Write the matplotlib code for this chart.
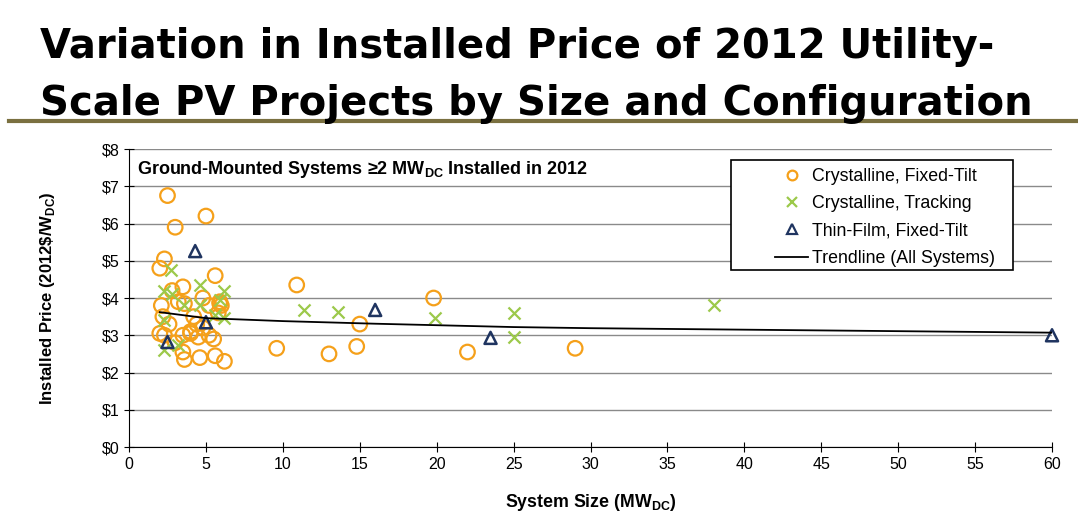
import matplotlib
matplotlib.use("Agg")
import matplotlib.pyplot as plt
from matplotlib.lines import Line2D
from matplotlib.patches import Rectangle

plt.rcParams['font.family'] = ['Liberation Sans', 'DejaVu Sans']
plt.rcParams['mathtext.fontset'] = 'custom'
plt.rcParams['mathtext.rm'] = 'Liberation Sans'
plt.rcParams['mathtext.bf'] = 'Liberation Sans:bold'

# ---- data ----
cft_x = [2.5, 5.0, 3.0, 2.3, 2.0, 5.6, 3.5, 2.8, 10.9, 19.8, 2.1, 3.6, 4.8, 5.9, 6.0,
         5.8, 4.2, 2.2, 2.6, 4.4, 4.0, 2.0, 2.3, 3.5, 4.0, 4.5, 5.2, 5.5, 4.8, 3.0,
         3.5, 3.6, 4.6, 5.6, 6.2, 9.6, 13.0, 14.8, 15.0, 22.0, 29.0, 3.2, 5.2, 5.9]
cft_y = [6.75, 6.2, 5.9, 5.05, 4.8, 4.6, 4.3, 4.2, 4.35, 4.0, 3.8, 3.85, 4.0, 3.9, 3.8,
         3.6, 3.5, 3.5, 3.3, 3.3, 3.1, 3.05, 3.0, 3.0, 3.05, 2.95, 3.0, 2.9, 3.2, 2.8,
         2.55, 2.35, 2.4, 2.45, 2.3, 2.65, 2.5, 2.7, 3.3, 2.55, 2.65, 3.9, 3.8, 3.85]
ctr_x = [2.7, 2.3, 4.6, 6.2, 3.6, 5.6, 6.2, 2.3, 2.3, 3.2, 4.6, 2.8, 5.9,
         11.4, 13.6, 19.9, 25.0, 25.0, 38.0]
ctr_y = [4.75, 4.2, 4.35, 4.2, 3.8, 3.55, 3.45, 3.4, 2.6, 2.75, 3.8, 4.1, 3.95,
         3.68, 3.62, 3.46, 3.6, 2.95, 3.8]
tf_x = [4.3, 5.0, 2.5, 16.0, 23.5, 60.0]
tf_y = [5.26, 3.35, 2.82, 3.68, 2.93, 3.0]
trend_x = [2, 5, 10, 16, 20, 25, 30, 40, 50, 60]
trend_y = [3.62, 3.46, 3.38, 3.31, 3.27, 3.22, 3.19, 3.15, 3.11, 3.07]

x_ticks = list(range(0, 61, 5))
y_ticks = list(range(0, 9))
y_labels = ['$%d' % v for v in y_ticks]

orange = '#F5A01A'
green = '#9CC94A'
navy = '#1F3460'

fig = plt.figure(figsize=(10.78, 5.29), dpi=100)
fig.patch.set_facecolor('white')

# title
fig.text(0.037, 0.89, 'Variation in Installed Price of 2012 Utility-',
         fontsize=28.9, fontweight='bold', family='DejaVu Sans', va='baseline', ha='left')
fig.text(0.037, 0.783, 'Scale PV Projects by Size and Configuration',
         fontsize=28.9, fontweight='bold', family='DejaVu Sans', va='baseline', ha='left')
fig.add_artist(Line2D([0.008, 1.0], [0.772, 0.772], transform=fig.transFigure,
                      color='#7a7040', lw=3))

ax = fig.add_axes([0.1197, 0.155, 0.8562, 0.5633])
ax.set_xlim(0, 60)
ax.set_ylim(0, 8)
ax.set_yticks(y_ticks)
ax.set_yticklabels(y_labels)
ax.set_xticks(x_ticks)
ax.yaxis.grid(True, color='#8a8a8a', lw=1.0)
ax.set_axisbelow(True)
for s in ['top', 'right']:
    ax.spines[s].set_visible(False)
ax.tick_params(axis='both', direction='inout', length=7, labelsize=11.5, colors='black')
ax.tick_params(axis='x', pad=4)

ax.scatter(cft_x, cft_y, s=110, facecolors='none', edgecolors=orange, linewidths=1.6,
           marker='o', zorder=3)
ax.scatter(ctr_x, ctr_y, s=75, c=green, linewidths=1.6, marker='x', zorder=3)
ax.scatter(tf_x, tf_y, s=75, facecolors='none', edgecolors=navy, linewidths=1.8,
           marker='^', zorder=4, clip_on=False)
ax.plot(trend_x, trend_y, color='black', lw=1.3, zorder=5)

ax.set_xlabel('System Size (MW$_{\\mathbf{DC}}$)', fontsize=12.8, fontweight='bold', labelpad=14)
ax.set_ylabel('Installed Price (2012\\$/W$_{\\mathbf{DC}}$)', fontsize=12, fontweight='bold', labelpad=32)

ax.text(0.009, 0.93, 'Ground-Mounted Systems \u22652 MW$_{\\mathbf{DC}}$ Installed in 2012',
        transform=ax.transAxes, fontsize=13, fontweight='bold', va='center', ha='left')

# legend frame drawn separately for wide left padding
ax.add_patch(Rectangle((0.652, 0.594), 0.306, 0.369, transform=ax.transAxes,
                       facecolor='white', edgecolor='black', lw=1.2, zorder=6))
handles = [
    Line2D([], [], ls='none', marker='o', mfc='none', mec=orange, mew=1.6, ms=7),
    Line2D([], [], ls='none', marker='x', color=green, mew=1.6, ms=7),
    Line2D([], [], ls='none', marker='^', mfc='none', mec=navy, mew=1.6, ms=7),
    Line2D([], [], color='black', lw=1.3),
]
labels = ['Crystalline, Fixed-Tilt', 'Crystalline, Tracking', 'Thin-Film, Fixed-Tilt',
          'Trendline (All Systems)']
leg = ax.legend(handles, labels, loc='upper left', bbox_to_anchor=(0.700, 0.937),
                fontsize=12.8, frameon=False, handlelength=1.85, handletextpad=0.25,
                borderpad=0, borderaxespad=0, labelspacing=0.58)
leg.set_zorder(7)

fig.savefig('out.png', dpi=100)
